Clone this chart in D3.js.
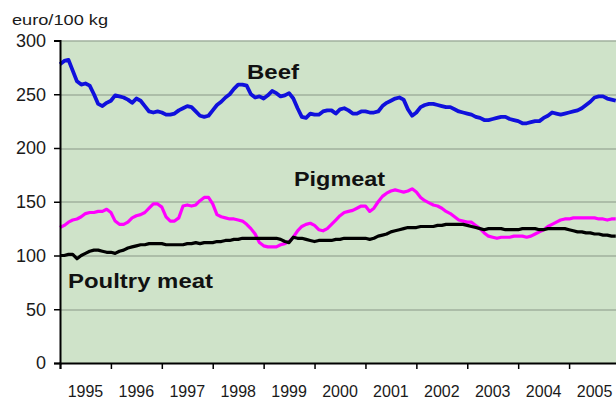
<!DOCTYPE html>
<html>
<head>
<meta charset="utf-8">
<script src="https://cdn.jsdelivr.net/npm/d3@7"></script>
<style>
  body { margin: 0; background: #fff; }
  text { font-family: Arial, "Liberation Sans", sans-serif; fill: #1a1a1a; }
</style>
</head>
<body>
<div id="chart"></div>
<script>
// monthly prices, Jan 1995 .. Dec 2005 (euro/100 kg)
var startYear = 1995;
var years = [1995, 1996, 1997, 1998, 1999, 2000, 2001, 2002, 2003, 2004, 2005];
var yTicks = [0, 50, 100, 150, 200, 250, 300];

var beef = [
  278, 281, 282, 272, 262, 259, 260, 258, 250, 241, 239, 242,
  244, 249, 248, 247, 245, 242, 246, 244, 239, 234, 233, 234,
  233, 231, 231, 232, 235, 237, 239, 238, 234, 230, 229, 230,
  235, 240, 243, 247, 250, 255, 259, 259, 258, 250, 247, 248,
  246, 249, 253, 251, 248, 249, 251, 246, 237, 229, 228, 232,
  231, 231, 234, 235, 235, 232, 236, 237, 235, 232, 232, 234,
  234, 233, 233, 234, 239, 242, 244, 246, 247, 245, 236, 230,
  233, 238, 240, 241, 241, 240, 239, 238, 238, 236, 234, 233,
  232, 231, 229, 228, 226, 226, 227, 228, 229, 229, 227, 226,
  225, 223, 223, 224, 225, 225, 228, 230, 233, 232, 231, 232,
  233, 234, 235, 237, 240, 243, 247, 248, 248, 246, 245, 244
];

var pigmeat = [
  126, 128, 131, 133, 134, 136, 139, 140, 140, 141, 141, 143,
  140, 132, 129, 129, 131, 135, 137, 138, 140, 144, 148, 148,
  145, 136, 132, 132, 135, 146, 147, 146, 147, 151, 154, 154,
  148, 138, 136, 135, 134, 134, 133, 132, 129, 125, 120, 112,
  109, 108, 108, 108, 110, 111, 113, 117, 123, 127, 129, 130,
  128, 124, 123, 125, 129, 133, 137, 140, 141, 142, 144, 146,
  146, 141, 144, 150, 155, 158, 160, 161, 160, 159, 160, 162,
  159, 154, 151, 149, 147, 146, 144, 141, 139, 136, 133, 132,
  131, 131, 128, 125, 121, 118, 117, 116, 117, 117, 117, 118,
  118, 118, 117, 118, 120, 122, 124, 127, 129, 131, 133, 134,
  134, 135, 135, 135, 135, 135, 135, 134, 134, 133, 134, 134
];

var poultry = [
  100, 100, 101, 101, 97, 100, 102, 104, 105, 105, 104, 103,
  103, 102, 104, 105, 107, 108, 109, 110, 110, 111, 111, 111,
  111, 110, 110, 110, 110, 110, 111, 111, 112, 111, 112, 112,
  112, 113, 113, 114, 114, 115, 115, 116, 116, 116, 116, 116,
  116, 116, 116, 116, 115, 113, 112, 117, 116, 116, 115, 114,
  113, 114, 114, 114, 114, 115, 115, 116, 116, 116, 116, 116,
  116, 115, 116, 118, 119, 120, 122, 123, 124, 125, 126, 126,
  126, 127, 127, 127, 127, 128, 128, 129, 129, 129, 129, 129,
  128, 127, 126, 125, 124, 125, 125, 125, 125, 124, 124, 124,
  124, 125, 125, 125, 125, 124, 124, 125, 125, 125, 125, 125,
  124, 123, 122, 122, 121, 121, 120, 120, 119, 119, 118, 118
];

var W = 616, H = 401;
var margin = {top: 40.5, right: -4, bottom: 38, left: 60},
    width = W - margin.left - margin.right,
    height = H - margin.top - margin.bottom;

var x = d3.scaleLinear().domain([1995, 2006]).range([0, width]);
var y = d3.scaleLinear().domain([0, 300]).range([height, 0]);

var svg = d3.select("#chart").append("svg")
    .attr("width", W)
    .attr("height", H);

var g = svg.append("g")
    .attr("transform", "translate(" + margin.left + "," + margin.top + ")");

// plot background
g.append("rect")
    .attr("x", 0).attr("y", 0)
    .attr("width", width).attr("height", height)
    .attr("fill", "#cfe3c9");

// grid lines
g.selectAll(".grid")
  .data(yTicks.filter(function(d) { return d > 0; }))
  .enter().append("line")
    .attr("x1", 0).attr("x2", width)
    .attr("y1", function(d) { return Math.round(y(d)) + 0.5; })
    .attr("y2", function(d) { return Math.round(y(d)) + 0.5; })
    .attr("stroke", "#8a9888")
    .attr("stroke-width", 1.2);

function toPoints(arr) {
  return arr.map(function(v, i) { return {date: startYear + i / 12, value: v}; });
}

var line = d3.line()
    .x(function(d) { return x(d.date); })
    .y(function(d) { return y(d.value); });

g.append("path").datum(toPoints(pigmeat))
    .attr("fill", "none").attr("stroke", "#ff00ff")
    .attr("stroke-width", 3.2).attr("stroke-linejoin", "round")
    .attr("d", line);

g.append("path").datum(toPoints(poultry))
    .attr("fill", "none").attr("stroke", "#000")
    .attr("stroke-width", 3.2).attr("stroke-linejoin", "round")
    .attr("d", line);

g.append("path").datum(toPoints(beef))
    .attr("fill", "none").attr("stroke", "#1010dc")
    .attr("stroke-width", 3.8).attr("stroke-linejoin", "round")
    .attr("d", line);

// Y axis
var yAxis = g.append("g")
    .call(d3.axisLeft(y).tickValues(yTicks).tickSize(6).tickPadding(8));
yAxis.select(".domain").attr("stroke", "#000").attr("stroke-width", 2);
yAxis.selectAll(".tick line").attr("stroke", "#000").attr("stroke-width", 1.5);
yAxis.selectAll(".tick text")
    .style("font-size", "18px")
    .style("font-family", "Arial, 'Liberation Sans', sans-serif")
    .attr("fill", "#1a1a1a");

// X axis: ticks at year boundaries, labels centred in each year
var xAxis = g.append("g")
    .attr("transform", "translate(0," + height + ")")
    .call(d3.axisBottom(x).tickValues(years.concat([2006])).tickSize(6).tickFormat(""));
xAxis.select(".domain").attr("stroke", "#000").attr("stroke-width", 2);
xAxis.selectAll(".tick line").attr("stroke", "#000").attr("stroke-width", 1.5);

g.selectAll(".xlabel")
  .data(years)
  .enter().append("text")
    .attr("x", function(d) { return x(d + 0.5); })
    .attr("y", height + 33.5)
    .attr("text-anchor", "middle")
    .style("font-size", "16px")
    .text(function(d) { return d; });

// unit label
svg.append("text")
    .attr("x", 12).attr("y", 25)
    .attr("textLength", 96).attr("lengthAdjust", "spacingAndGlyphs")
    .style("font-size", "15px")
    .text("euro/100 kg");

// series labels
var labels = [
  {t: "Beef", x: 247, y: 79, w: 52},
  {t: "Pigmeat", x: 294, y: 186, w: 91},
  {t: "Poultry meat", x: 68, y: 288, w: 145}
];
svg.selectAll(".slabel")
  .data(labels)
  .enter().append("text")
    .attr("x", function(d) { return d.x; })
    .attr("y", function(d) { return d.y; })
    .attr("textLength", function(d) { return d.w; })
    .attr("lengthAdjust", "spacingAndGlyphs")
    .style("font-size", "21px")
    .style("font-weight", "bold")
    .style("fill", "#111")
    .text(function(d) { return d.t; });
</script>
</body>
</html>
